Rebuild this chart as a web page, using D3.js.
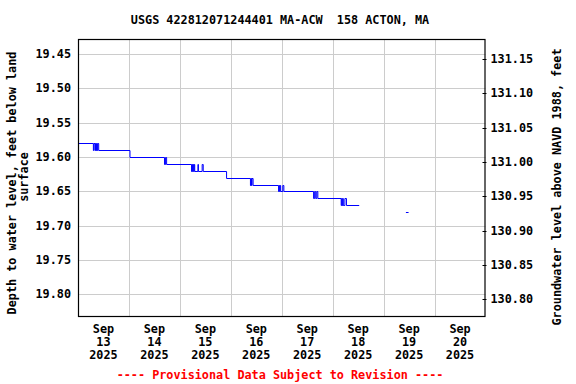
<!DOCTYPE html>
<html>
<head>
<meta charset="utf-8">
<script src="https://cdn.jsdelivr.net/npm/d3@7"></script>
<style>
  body { margin: 0; background: #fff; }
  text { font-family: "DejaVu Sans Mono", monospace; font-weight: bold; }
</style>
</head>
<body>
<div id="chart"></div>
<script>
// observed depth to water, feet below land surface (null = gap in record)
const obsTimes = [
  "2025-09-13T00:00", "2025-09-13T07:15", "2025-09-13T07:30", "2025-09-13T08:00",
  "2025-09-13T08:15", "2025-09-13T08:30", "2025-09-13T08:45", "2025-09-13T09:00",
  "2025-09-13T09:15", "2025-09-13T09:45", "2025-09-14T00:30", "2025-09-14T16:45",
  "2025-09-14T17:15", "2025-09-14T17:45", "2025-09-15T05:30", "2025-09-15T05:45",
  "2025-09-15T06:00", "2025-09-15T06:15", "2025-09-15T06:30", "2025-09-15T06:45",
  "2025-09-15T07:00", "2025-09-15T08:30", "2025-09-15T08:45", "2025-09-15T10:30",
  "2025-09-15T11:00", "2025-09-15T22:00", "2025-09-16T09:15", "2025-09-16T09:30",
  "2025-09-16T09:45", "2025-09-16T10:00", "2025-09-16T10:30", "2025-09-16T22:30",
  "2025-09-16T22:45", "2025-09-16T23:00", "2025-09-16T23:15", "2025-09-16T23:30",
  "2025-09-17T00:30", "2025-09-17T01:00", "2025-09-17T15:00", "2025-09-17T15:30",
  "2025-09-17T16:00", "2025-09-17T16:30", "2025-09-17T17:00", "2025-09-18T04:00",
  "2025-09-18T04:15", "2025-09-18T04:30", "2025-09-18T04:45", "2025-09-18T05:00",
  "2025-09-18T05:45", "2025-09-18T06:30", "2025-09-18T12:30", "2025-09-18T12:45",
  "2025-09-19T10:30", "2025-09-19T11:45"
];
const obsDepths = [
  19.58, 19.59, 19.58, 19.59,
  19.58, 19.59, 19.58, 19.59,
  19.58, 19.59, 19.60, 19.61,
  19.60, 19.61, 19.62, 19.61,
  19.62, 19.61, 19.62, 19.61,
  19.62, 19.61, 19.62, 19.61,
  19.62, 19.63, 19.64, 19.63,
  19.64, 19.63, 19.64, 19.65,
  19.64, 19.65, 19.64, 19.65,
  19.64, 19.65, 19.66, 19.65,
  19.66, 19.65, 19.66, 19.67,
  19.66, 19.67, 19.66, 19.67,
  19.66, 19.67, 19.67, null,
  19.68, 19.68
];

const depthTicks = [19.45, 19.50, 19.55, 19.60, 19.65, 19.70, 19.75, 19.80];
const elevTicks = [131.15, 131.10, 131.05, 131.00, 130.95, 130.90, 130.85, 130.80];
const landSurface = 150.607; // elevation = landSurface - depth
const dayTicks = ["2025-09-13", "2025-09-14", "2025-09-15", "2025-09-16",
                  "2025-09-17", "2025-09-18", "2025-09-19", "2025-09-20"];

const width = 576, height = 384;
const plot = { left: 78, right: 485.5, top: 39, bottom: 316 };

const parseTime = d3.utcParse("%Y-%m-%dT%H:%M");
const parseDay = d3.utcParse("%Y-%m-%d");

const data = obsTimes.map((t, i) => ({ date: parseTime(t), depth: obsDepths[i] }));

const x = d3.scaleUtc()
    .domain([parseDay("2025-09-13"), parseDay("2025-09-21")])
    .range([plot.left, plot.right]);

const y = d3.scaleLinear()
    .domain([19.4282, 19.8313])
    .range([plot.top, plot.bottom]);

const yRight = d3.scaleLinear()
    .domain([landSurface - 19.4282, landSurface - 19.8313])
    .range([plot.top, plot.bottom]);

const svg = d3.select("#chart").append("svg")
    .attr("width", width)
    .attr("height", height);

// grid
const grid = svg.append("g").attr("stroke", "#cccccc").attr("stroke-width", 1);
grid.selectAll(".hgrid")
    .data(depthTicks)
    .enter().append("line")
    .attr("x1", plot.left).attr("x2", plot.right)
    .attr("y1", d => Math.round(y(d)) + 0.5).attr("y2", d => Math.round(y(d)) + 0.5);

grid.selectAll(".vgrid")
    .data(dayTicks.slice(1))
    .enter().append("line")
    .attr("x1", d => Math.round(x(parseDay(d))) + 0.5)
    .attr("x2", d => Math.round(x(parseDay(d))) + 0.5)
    .attr("y1", plot.top).attr("y2", plot.bottom);

// data line
const line = d3.line()
    .defined(d => d.depth !== null)
    .x(d => x(d.date))
    .y(d => Math.round(y(d.depth)) + 0.5)
    .curve(d3.curveStepAfter);

svg.append("path")
    .datum(data)
    .attr("fill", "none")
    .attr("stroke", "#0000ff")
    .attr("stroke-width", 1)
    .attr("d", line);

// frame
svg.append("rect")
    .attr("x", plot.left + 0.5).attr("y", plot.top + 0.5)
    .attr("width", plot.right - plot.left - 1).attr("height", plot.bottom - plot.top)
    .attr("fill", "none")
    .attr("stroke", "#000")
    .attr("stroke-width", 1.2);

// left axis labels
svg.append("g").selectAll("text")
    .data(depthTicks)
    .enter().append("text")
    .attr("x", plot.left - 7)
    .attr("y", d => y(d) + 4)
    .attr("text-anchor", "end")
    .style("font-size", "11.8px")
    .text(d => d.toFixed(2));

// right axis ticks and labels
const rightAxis = svg.append("g");
rightAxis.selectAll("line")
    .data(elevTicks)
    .enter().append("line")
    .attr("x1", plot.right - 3).attr("x2", plot.right + 1)
    .attr("y1", d => Math.round(yRight(d)) + 0.5).attr("y2", d => Math.round(yRight(d)) + 0.5)
    .attr("stroke", "#000");
rightAxis.selectAll("text")
    .data(elevTicks)
    .enter().append("text")
    .attr("x", plot.right + 5)
    .attr("y", d => yRight(d) + 4)
    .attr("text-anchor", "start")
    .style("font-size", "11.8px")
    .text(d => d.toFixed(2));

// bottom axis labels (centred on each day)
const fmtMon = d3.utcFormat("%b"), fmtDay = d3.utcFormat("%d"), fmtYear = d3.utcFormat("%Y");
const xLabels = svg.append("g").selectAll("text")
    .data(dayTicks)
    .enter().append("text")
    .attr("text-anchor", "middle")
    .style("font-size", "11.8px");
xLabels.each(function(d) {
    const day = parseDay(d);
    const cx = x(d3.utcHour.offset(day, 12));
    const t = d3.select(this);
    t.append("tspan").attr("x", cx).attr("y", 333).text(fmtMon(day));
    t.append("tspan").attr("x", cx).attr("y", 346).text(fmtDay(day));
    t.append("tspan").attr("x", cx).attr("y", 359).text(fmtYear(day));
});

// axis titles
svg.append("text")
    .attr("transform", "translate(16,183) rotate(-90)")
    .attr("text-anchor", "middle")
    .style("font-size", "11.8px")
    .text("Depth to water level, feet below land");
svg.append("text")
    .attr("transform", "translate(28,177) rotate(-90)")
    .attr("text-anchor", "middle")
    .style("font-size", "11.8px")
    .text("surface");
svg.append("text")
    .attr("transform", "translate(561,187) rotate(-90)")
    .attr("text-anchor", "middle")
    .style("font-size", "11.8px")
    .text("Groundwater level above NAVD 1988, feet");

// title
svg.append("text")
    .attr("x", 280).attr("y", 24)
    .attr("text-anchor", "middle")
    .style("font-size", "11.8px")
    .attr("xml:space", "preserve")
    .style("white-space", "pre")
    .text("USGS 422812071244401 MA-ACW  158 ACTON, MA");

// footer
svg.append("text")
    .attr("x", 280).attr("y", 379)
    .attr("text-anchor", "middle")
    .style("font-size", "11.8px")
    .attr("fill", "#ff0000")
    .text("---- Provisional Data Subject to Revision ----");
</script>
</body>
</html>
